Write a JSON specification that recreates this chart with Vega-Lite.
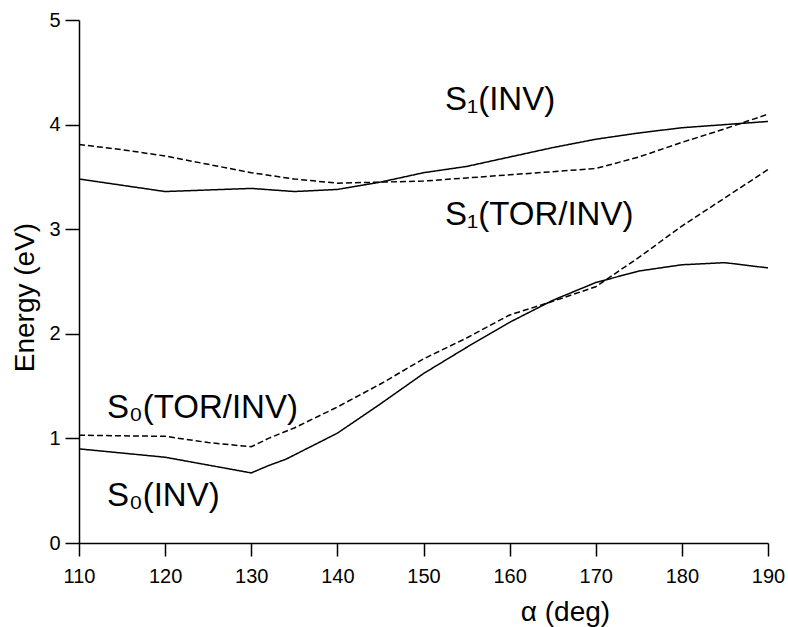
{
  "$schema": "https://vega.github.io/schema/vega-lite/v6.json",
  "width": 689,
  "height": 523,
  "autosize": {"type": "none"},
  "padding": {"left": 79, "top": 20, "right": 20, "bottom": 84},
  "background": "white",
  "config": {
    "view": {"stroke": null},
    "font": "Liberation Sans",
    "axis": {"domainColor": "black", "tickColor": "black", "labelColor": "black", "titleColor": "black", "grid": false, "labelFont": "Liberation Sans", "titleFont": "Liberation Sans", "titleFontWeight": "normal", "domainWidth": 1.5, "tickWidth": 1.5}
  },
  "datasets": {
    "curves": [
      {"curve": "S1_INV", "alpha": 110, "energy": 3.48},
      {"curve": "S1_INV", "alpha": 120, "energy": 3.36},
      {"curve": "S1_INV", "alpha": 130, "energy": 3.39},
      {"curve": "S1_INV", "alpha": 135, "energy": 3.36},
      {"curve": "S1_INV", "alpha": 140, "energy": 3.38},
      {"curve": "S1_INV", "alpha": 145, "energy": 3.45},
      {"curve": "S1_INV", "alpha": 150, "energy": 3.54},
      {"curve": "S1_INV", "alpha": 155, "energy": 3.60},
      {"curve": "S1_INV", "alpha": 160, "energy": 3.69},
      {"curve": "S1_INV", "alpha": 165, "energy": 3.78},
      {"curve": "S1_INV", "alpha": 170, "energy": 3.86},
      {"curve": "S1_INV", "alpha": 175, "energy": 3.92},
      {"curve": "S1_INV", "alpha": 180, "energy": 3.97},
      {"curve": "S1_INV", "alpha": 185, "energy": 4.00},
      {"curve": "S1_INV", "alpha": 190, "energy": 4.03},
      {"curve": "S1_TOR", "alpha": 110, "energy": 3.81},
      {"curve": "S1_TOR", "alpha": 115, "energy": 3.76},
      {"curve": "S1_TOR", "alpha": 120, "energy": 3.70},
      {"curve": "S1_TOR", "alpha": 125, "energy": 3.62},
      {"curve": "S1_TOR", "alpha": 130, "energy": 3.54},
      {"curve": "S1_TOR", "alpha": 135, "energy": 3.48},
      {"curve": "S1_TOR", "alpha": 140, "energy": 3.44},
      {"curve": "S1_TOR", "alpha": 145, "energy": 3.45},
      {"curve": "S1_TOR", "alpha": 150, "energy": 3.46},
      {"curve": "S1_TOR", "alpha": 155, "energy": 3.49},
      {"curve": "S1_TOR", "alpha": 160, "energy": 3.52},
      {"curve": "S1_TOR", "alpha": 165, "energy": 3.55},
      {"curve": "S1_TOR", "alpha": 170, "energy": 3.58},
      {"curve": "S1_TOR", "alpha": 175, "energy": 3.69},
      {"curve": "S1_TOR", "alpha": 180, "energy": 3.83},
      {"curve": "S1_TOR", "alpha": 185, "energy": 3.96},
      {"curve": "S1_TOR", "alpha": 190, "energy": 4.10},
      {"curve": "S0_INV", "alpha": 110, "energy": 0.90},
      {"curve": "S0_INV", "alpha": 120, "energy": 0.82},
      {"curve": "S0_INV", "alpha": 130, "energy": 0.67},
      {"curve": "S0_INV", "alpha": 132, "energy": 0.74},
      {"curve": "S0_INV", "alpha": 134, "energy": 0.80},
      {"curve": "S0_INV", "alpha": 140, "energy": 1.05},
      {"curve": "S0_INV", "alpha": 145, "energy": 1.33},
      {"curve": "S0_INV", "alpha": 150, "energy": 1.62},
      {"curve": "S0_INV", "alpha": 155, "energy": 1.87},
      {"curve": "S0_INV", "alpha": 160, "energy": 2.11},
      {"curve": "S0_INV", "alpha": 165, "energy": 2.32},
      {"curve": "S0_INV", "alpha": 170, "energy": 2.49},
      {"curve": "S0_INV", "alpha": 175, "energy": 2.60},
      {"curve": "S0_INV", "alpha": 180, "energy": 2.66},
      {"curve": "S0_INV", "alpha": 185, "energy": 2.68},
      {"curve": "S0_INV", "alpha": 190, "energy": 2.63},
      {"curve": "S0_TOR", "alpha": 110, "energy": 1.03},
      {"curve": "S0_TOR", "alpha": 120, "energy": 1.02},
      {"curve": "S0_TOR", "alpha": 125, "energy": 0.96},
      {"curve": "S0_TOR", "alpha": 130, "energy": 0.92},
      {"curve": "S0_TOR", "alpha": 132, "energy": 1.00},
      {"curve": "S0_TOR", "alpha": 135, "energy": 1.10},
      {"curve": "S0_TOR", "alpha": 140, "energy": 1.30},
      {"curve": "S0_TOR", "alpha": 145, "energy": 1.52},
      {"curve": "S0_TOR", "alpha": 150, "energy": 1.76},
      {"curve": "S0_TOR", "alpha": 155, "energy": 1.96},
      {"curve": "S0_TOR", "alpha": 160, "energy": 2.18},
      {"curve": "S0_TOR", "alpha": 165, "energy": 2.31},
      {"curve": "S0_TOR", "alpha": 170, "energy": 2.45},
      {"curve": "S0_TOR", "alpha": 175, "energy": 2.73},
      {"curve": "S0_TOR", "alpha": 180, "energy": 3.03},
      {"curve": "S0_TOR", "alpha": 185, "energy": 3.30},
      {"curve": "S0_TOR", "alpha": 190, "energy": 3.57}
    ],
    "labels": [
      {"alpha": 152.5, "energy": 4.14, "text": "S₁(INV)"},
      {"alpha": 152.5, "energy": 3.04, "text": "S₁(TOR/INV)"},
      {"alpha": 113.25, "energy": 1.195, "text": "S₀(TOR/INV)"},
      {"alpha": 113.25, "energy": 0.354, "text": "S₀(INV)"}
    ]
  },
  "layer": [
    {
      "data": {"name": "curves"},
      "mark": {"type": "line", "color": "black", "strokeWidth": 1.5},
      "encoding": {
        "x": {"field": "alpha", "type": "quantitative", "scale": {"domain": [110, 190], "nice": false, "zero": false},
          "axis": {"values": [110, 120, 130, 140, 150, 160, 170, 180, 190], "format": "d", "tickSize": 13, "labelFontSize": 20, "labelPadding": 10, "title": "α (deg)", "titleFontSize": 28, "titleX": 486, "titleY": 77, "titleAlign": "center", "titleBaseline": "alphabetic", "labelFlush": false}},
        "y": {"field": "energy", "type": "quantitative", "scale": {"domain": [0, 5], "nice": false},
          "axis": {"values": [0, 1, 2, 3, 4, 5], "format": "d", "tickSize": 14, "labelFontSize": 20, "labelPadding": 5, "title": "Energy (eV)", "titleFontSize": 28, "titleX": -46, "titleY": 277, "titleAlign": "center", "titleBaseline": "alphabetic", "titleAngle": -90}},
        "detail": {"field": "curve"},
        "strokeDash": {"field": "curve", "type": "nominal", "legend": null,
          "scale": {"domain": ["S1_INV", "S1_TOR", "S0_INV", "S0_TOR"], "range": [[1, 0], [6, 3], [1, 0], [6, 3]]}}
      }
    },
    {
      "data": {"name": "labels"},
      "mark": {"type": "text", "align": "left", "baseline": "alphabetic", "fontSize": 33, "font": "Liberation Sans", "color": "black"},
      "encoding": {
        "x": {"field": "alpha", "type": "quantitative"},
        "y": {"field": "energy", "type": "quantitative"},
        "text": {"field": "text"}
      }
    }
  ]
}
